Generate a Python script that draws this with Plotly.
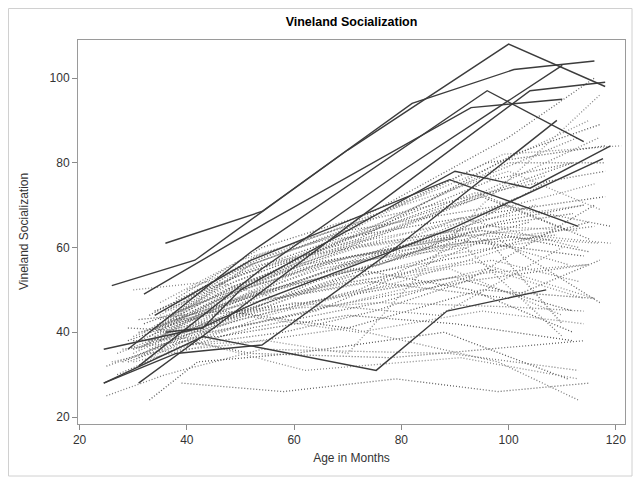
import plotly.graph_objects as go

# ---- solid (highlighted) subjects: age in months, Vineland socialization ----
solid_ages = [
    [36, 54, 82, 101, 116],
    [26, 41.5, 70, 100, 118],
    [32, 55, 93, 110],
    [31, 54, 80, 110],
    [31, 45, 70, 104, 118],
    [29, 52, 96, 114],
    [24.5, 38, 54, 78, 109],
    [36, 43, 50, 90, 104, 119],
    [34, 52, 89, 113],
    [24.5, 42.6, 54, 89.5, 117.6],
    [24.5, 43, 75.3, 88.5, 107],
]
solid_vals = [
    [61, 68.5, 94, 102, 104],
    [51, 57, 83, 108, 98],
    [49, 66, 93, 95],
    [32, 55, 78, 103],
    [28, 41, 65, 97, 99],
    [36, 59, 97, 85],
    [28, 35, 37, 59, 90],
    [40, 41, 50, 78, 74, 84],
    [44, 57, 76, 65],
    [36, 41, 47.6, 64.5, 81],
    [28, 39, 31, 45, 50],
]

# ---- dotted subjects ----
dot_ages = [
    [39, 58, 79, 98, 115], [25, 36, 54, 89, 113], [33, 42, 60, 88, 111],
    [30, 44, 62, 91, 113], [28, 40, 52, 78, 114], [32, 48, 70, 98, 113],
    [30, 46, 70, 90, 112], [34, 50, 72, 95, 114], [29, 45, 66, 92, 115],
    [35, 52, 76, 100, 114], [31, 47, 70, 95, 116], [30, 45, 57, 89, 110],
    [36, 52, 74, 100, 117], [33, 50, 66, 97, 113], [37, 51, 71, 93, 112],
    [34, 49, 70, 96, 114], [29, 44, 64, 96, 110], [31, 44, 61, 86, 110],
    [33, 46, 62, 90, 112], [35, 49, 66, 92, 114], [30, 45, 63, 88, 109],
    [34, 47, 65, 91, 116], [36, 50, 68, 96, 118], [32, 46, 64, 93, 117],
    [38, 52, 70, 99, 119], [31, 43, 60, 87, 108], [33, 48, 67, 95, 115],
    [35, 50, 69, 97, 113], [37, 53, 72, 100, 118], [30, 47, 65, 92, 111],
    [32, 45, 62, 89, 114], [34, 51, 71, 98, 116], [36, 49, 67, 94, 112],
    [33, 47, 64, 90, 117], [29, 42, 58, 84, 105], [35, 50, 70, 95, 115],
    [38, 54, 74, 100, 116], [31, 46, 66, 92, 113], [33, 48, 69, 96, 118],
    [36, 52, 72, 99, 121], [32, 47, 70, 97, 112], [30, 44, 61, 88, 107],
    [34, 49, 68, 95, 111], [37, 51, 73, 100, 117], [35, 48, 66, 94, 115],
    [32, 46, 63, 91, 113], [28, 41, 57, 83, 104], [33, 45, 63, 93, 116],
    [36, 50, 71, 98, 117], [34, 48, 66, 92, 110], [31, 44, 62, 90, 112],
    [26, 40, 55, 80, 100], [27, 38, 52, 76, 98], [40, 55, 75, 100, 118],
    [35, 50, 70, 92, 115], [37, 52, 72, 95, 119], [33, 46, 64, 85, 108],
    [30, 42, 60, 87, 110], [38, 55, 76, 98, 114], [33, 50, 73, 96, 115],
    [25, 38, 50, 72, 93], [27, 41, 56, 80, 102], [34, 51, 72, 101, 117],
    [40, 55, 70, 95, 117], [40, 58, 75, 92, 116],
]
dot_vals = [
    [28, 26, 29, 26, 28], [25, 30, 36, 35, 31], [24, 33, 35, 40, 29],
    [33, 37, 31, 34, 29], [36, 38, 35, 34, 38], [35, 37, 41, 33, 24],
    [38, 39, 44, 42, 38], [39, 44, 40, 45, 42], [41, 40, 46, 52, 56],
    [40, 45, 47, 46, 45], [43, 45, 41, 50, 48], [50, 52, 48, 55, 44],
    [42, 47, 52, 48, 57], [38, 44, 51, 57, 52], [41, 48, 55, 50, 40],
    [36, 41, 47, 55, 48], [33, 40, 45, 62, 42], [38, 45, 55, 62, 65],
    [40, 48, 58, 64, 68], [42, 52, 60, 66, 70], [36, 43, 52, 60, 63],
    [41, 47, 55, 61, 65], [43, 54, 62, 68, 72], [37, 46, 56, 63, 61],
    [45, 56, 64, 70, 65], [34, 42, 49, 58, 62], [39, 49, 57, 64, 59],
    [44, 55, 60, 65, 64], [46, 58, 66, 74, 78], [35, 45, 54, 63, 56],
    [42, 48, 56, 62, 58], [40, 51, 60, 69, 75], [45, 53, 61, 72, 80],
    [40, 50, 58, 70, 86], [38, 44, 51, 62, 70], [47, 57, 65, 78, 90],
    [48, 60, 68, 86, 100], [36, 47, 60, 75, 86], [44, 54, 64, 80, 84],
    [42, 56, 65, 82, 84], [40, 51, 62, 76, 80], [39, 46, 56, 69, 77],
    [41, 51, 59, 72, 64], [45, 56, 67, 78, 69], [43, 50, 60, 73, 62],
    [37, 46, 53, 67, 60], [33, 40, 48, 59, 66], [34, 41, 50, 57, 48],
    [42, 50, 58, 62, 47], [39, 47, 56, 60, 39], [40, 44, 47, 53, 45],
    [33, 37, 44, 52, 60], [30, 36, 41, 47, 55], [50, 58, 65, 80, 80],
    [38, 45, 53, 58, 66], [44, 52, 60, 64, 61], [36, 42, 52, 60, 76],
    [36, 41, 47, 44, 60], [43, 50, 56, 66, 70], [37, 43, 50, 54, 56],
    [32, 38, 43, 50, 62], [35, 42, 50, 60, 72], [45, 54, 62, 82, 89],
    [37, 38, 35, 70, 96], [37, 40, 45, 52, 70],
]

x_ticks = [20, 40, 60, 80, 100, 120]
y_ticks = [20, 40, 60, 80, 100]

dot_colors = ["#666666", "#7c7c7c", "#555555", "#8a8a8a"]

fig = go.Figure()
for i, (xs, ys) in enumerate(zip(dot_ages, dot_vals)):
    fig.add_trace(go.Scatter(
        x=xs, y=ys, mode="lines", showlegend=False, hoverinfo="skip",
        line=dict(color=dot_colors[i % len(dot_colors)], width=1.3, dash="1px,2px"),
    ))
for xs, ys in zip(solid_ages, solid_vals):
    fig.add_trace(go.Scatter(
        x=xs, y=ys, mode="lines", showlegend=False, hoverinfo="skip",
        line=dict(color="#3c3c3c", width=1.4),
    ))

# page has an 8px body margin, so the figure is 8px smaller and shifted
W, H = 633, 476
L, R, T, B = 70, 16, 32, 60
pw, ph = W - L - R, H - T - B

fig.update_layout(
    width=W, height=H,
    margin=dict(l=L, r=R, t=T, b=B),
    paper_bgcolor="white", plot_bgcolor="white",
    font=dict(family="Liberation Sans, Arial, sans-serif", size=12, color="#333333"),
    title=dict(text="<b>Vineland Socialization</b>", x=0.5, xref="paper",
               y=1 - 14 / H, yref="container", yanchor="middle",
               font=dict(size=12.5, color="#000000")),
    xaxis=dict(range=[19.7, 121.7], tickvals=x_ticks, ticks="outside", ticklen=5,
               tickcolor="#8a8a8a", showline=True, linecolor="#9a9a9a", linewidth=1,
               mirror=True, showgrid=False, zeroline=False,
               tickfont=dict(size=12, color="#333333"),
               title=dict(text="Age in Months", standoff=7,
                          font=dict(size=12, color="#333333"))),
    yaxis=dict(range=[18.35, 108.97], tickvals=y_ticks, ticks="outside", ticklen=5,
               tickcolor="#8a8a8a", showline=True, linecolor="#9a9a9a", linewidth=1,
               mirror=True, showgrid=False, zeroline=False,
               tickfont=dict(size=12, color="#333333")),
    annotations=[dict(text="Vineland Socialization", textangle=-90,
                      xref="paper", yref="paper", x=(16 - L) / pw, y=0.5,
                      xanchor="center", yanchor="middle", showarrow=False,
                      font=dict(size=12, color="#333333"))],
    shapes=[dict(type="rect", xref="paper", yref="paper",
                 x0=(0.5 - L) / pw, x1=(624 - L) / pw,
                 y0=(H - B - 468) / ph, y1=(H - B - 0.5) / ph,
                 line=dict(color="#d0d0d0", width=1), fillcolor="rgba(0,0,0,0)",
                 layer="below")],
)

fig.write_html("out.html")
